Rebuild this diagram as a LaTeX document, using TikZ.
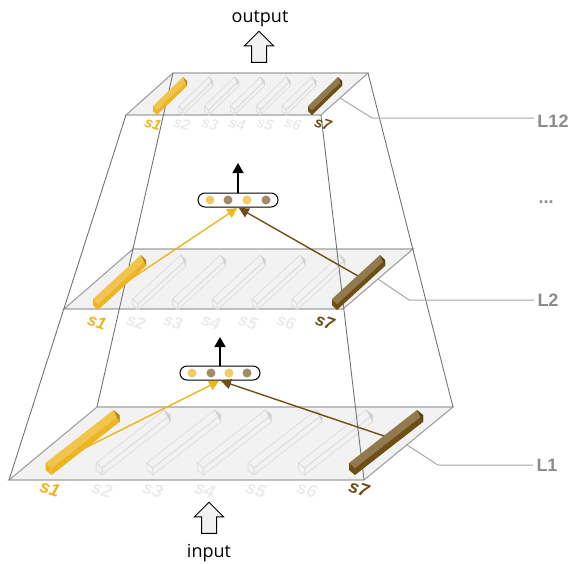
\documentclass[tikz,border=0pt]{standalone}
\usepackage{fontspec}
\setmainfont{Open Sans}
\newfontfamily\barfont{Liberation Sans}
\usetikzlibrary{arrows.meta,shapes.arrows}

\definecolor{softgold}{RGB}{238,181,34}
\definecolor{softbrown}{RGB}{110,78,20}
\definecolor{planegray}{RGB}{242,242,242}
\definecolor{edgegray}{RGB}{160,160,160}
\definecolor{textgray}{RGB}{140,140,140}
\definecolor{ghostgray}{RGB}{222,222,222}

\tikzset{
  plane/.style={fill=planegray, draw=edgegray, line width=1.1pt},
  pyramid/.style={draw=black!55, line width=0.9pt},
  leader/.style={draw=black!35, line width=1pt},
  layerlabel/.style={text=textgray, font=\barfont\bfseries\fontsize{18}{18}\selectfont},
  barlabel/.style={font=\barfont\bfseries\itshape\fontsize{18}{18}\selectfont, rotate=-18, inner sep=0pt},
  bigarrow/.style={single arrow, draw=black, fill=planegray, line width=1pt, rotate=90, inner sep=0pt,
    minimum height=31pt, single arrow head extend=7pt},
  pill/.style={draw=black, fill=white, line width=1pt, rounded corners=7pt, minimum width=80pt, minimum height=14pt, inner sep=0pt},
  gold dot/.style={circle, fill=softgold!70, minimum size=9pt, inner sep=0pt},
  brown dot/.style={circle, fill=softbrown!65, minimum size=9pt, inner sep=0pt},
  goldlink/.style={draw=softgold, line width=1.4pt, -{Triangle[width=10pt,length=10pt]}, shorten >=1pt},
  brownlink/.style={draw=softbrown, line width=1.4pt, -{Triangle[width=10pt,length=10pt]}, shorten >=1pt},
  uplink/.style={draw=black, line width=1.4pt, -{Triangle[width=11pt,length=10pt]}},
  goldtop/.style={fill=softgold!80!white},
  goldside/.style={fill=softgold},
  goldcap/.style={fill=softgold!75!black},
  browntop/.style={fill=softbrown!75!white},
  brownside/.style={fill=softbrown},
  browncap/.style={fill=softbrown!80!black},
  ghosttop/.style={draw=ghostgray, line width=0.8pt},
  ghostside/.style={draw=ghostgray, line width=0.8pt},
  ghostcap/.style={fill=black!18},
}

% bar: style prefix, x, y, length x, length y, width x, width y, height
\newcommand{\layerbar}[8]{
  \path[#1top] (#2,#3) -- ++(#4,#5) -- ++(#6,#7) -- ++(-#4,-#5) -- cycle;
  \path[#1side] (#2+#6,#3+#7) -- ++(#4,#5) -- ++(0,#8) -- ++(-#4,-#5) -- cycle;
  \path[#1side] (#2,#3) -- ++(#6,#7) -- ++(0,#8) -- ++(-#6,-#7) -- cycle;
  \path[#1cap] (#2+#4,#3+#5) -- ++(#6,#7) -- ++(0,#8) -- cycle;
}

\begin{document}
\begin{tikzpicture}[x=1pt,y=-1pt]
  \useasboundingbox (0,0) rectangle (571,563);

  % Corners of the layers
  \coordinate (a bl) at (9,480);
  \coordinate (a tl) at (97,407);
  \coordinate (a tr) at (453,407);
  \coordinate (a br) at (364,480);
  \coordinate (b bl) at (64,309);
  \coordinate (b tl) at (133,249);
  \coordinate (b tr) at (413,249);
  \coordinate (b br) at (343,309);
  \coordinate (c bl) at (126,115);
  \coordinate (c tl) at (173,73);
  \coordinate (c tr) at (368,73);
  \coordinate (c br) at (321,115);

  % Layers
  \draw[plane] (a bl) -- (a tl) -- (a tr) -- (a br) -- cycle;
  \draw[plane] (b bl) -- (b tl) -- (b tr) -- (b br) -- cycle;
  \draw[plane] (c bl) -- (c tl) -- (c tr) -- (c br) -- cycle;

  % Faded bars
  \foreach \bx/\by/\ds/\lx/\ly/\wx/\wy/\hh in {45.5/463/50.6/68/-53/6/5/7, 93/299/39.8/48/-44/5/5/6, 153/106/25.8/30/-29/4/4/5}{
    \foreach \i in {1,...,5}{
      \layerbar{ghost}{\bx+\i*\ds}{\by}{\lx}{\ly}{\wx}{\wy}{\hh}
    }
  }

  % Pyramid edges
  \draw[pyramid] (a bl) -- (c bl);
  \draw[pyramid] (a tl) -- (c tl);
  \draw[pyramid] (a br) -- (c br);
  \draw[pyramid] (a tr) -- (c tr);

  % Pooling pills
  \node[pill] (pill top) at (238,200) {};
  \node[gold dot] (dot a) at (210,200) {};
  \node[brown dot] (dot b) at (228,200) {};
  \node[gold dot] (dot c) at (247,200) {};
  \node[brown dot] (dot d) at (266,200) {};

  \node[pill] (pill low) at (220,373) {};
  \node[gold dot] (dot e) at (192,373) {};
  \node[brown dot] (dot f) at (211,373) {};
  \node[gold dot] (dot g) at (229,373) {};
  \node[brown dot] (dot h) at (247,373) {};

  % Links
  \coordinate (gold a) at (85,448);
  \coordinate (brown a) at (390,438);
  \coordinate (gold b) at (122,285);
  \coordinate (brown b) at (358,276);
  \coordinate (out top) at (238,163);
  \coordinate (out low) at (220,337);
  \draw[goldlink] (gold a) -- (pill low.south);
  \draw[brownlink] (brown a) -- (pill low.south);
  \draw[goldlink] (gold b) -- (pill top.south);
  \draw[brownlink] (brown b) -- (pill top.south);
  \draw[uplink] (pill top.north) -- (out top);
  \draw[uplink] (pill low.north) -- (out low);

  % Coloured bars
  \layerbar{gold}{45.5}{463}{68}{-53}{6}{5}{7}
  \layerbar{brown}{349}{463}{68}{-53}{6}{5}{7}
  \layerbar{gold}{93}{299}{48}{-44}{5}{5}{6}
  \layerbar{brown}{332}{299}{48}{-44}{5}{5}{6}
  \layerbar{gold}{153}{106}{30}{-29}{4}{4}{5}
  \layerbar{brown}{308}{106}{30}{-29}{4}{4}{5}

  % Bar labels
  \foreach \i/\lbx in {2/102,3/153,4/205,5/256,6/307}
    \node[barlabel, text=ghostgray!60] (la\i) at (\lbx,490) {s\i};
  \foreach \i/\lbx in {2/136,3/173,4/211,5/248,6/286}
    \node[barlabel, text=ghostgray!60, scale=0.94] (lb\i) at (\lbx,322) {s\i};
  \foreach \i/\lbx in {2/182,3/210,4/237,5/265,6/293}
    \node[barlabel, text=ghostgray!60, scale=0.83] (lc\i) at (\lbx,124) {s\i};
  \node[barlabel, text=softgold] (la1) at (50,489) {s1};
  \node[barlabel, text=softbrown] (la7) at (359,489) {s7};
  \node[barlabel, text=softgold, scale=0.94] (lb1) at (97,322) {s1};
  \node[barlabel, text=softbrown, scale=0.94] (lb7) at (325,322) {s7};
  \node[barlabel, text=softgold, scale=0.83] (lc1) at (153,124) {s1};
  \node[barlabel, text=softbrown, scale=0.83] (lc7) at (323,124) {s7};

  % Layer labels
  \node[layerlabel] (name a) at (547,465) {L1};
  \node[layerlabel] (name b) at (548,300) {L2};
  \node[layerlabel] (name c) at (553,121) {L12};
  \node[layerlabel] (name d) at (546,202) {...};

  \coordinate (tick a) at (407,445);
  \coordinate (tick b) at (378,279);
  \coordinate (tick c) at (340,98);
  \draw[leader] (tick a) -- (438,465) -- (name a.west);
  \draw[leader] (tick b) -- (409,300) -- (name b.west);
  \draw[leader] (tick c) -- (372,118) -- (name c.west |- 0,118);

  % Input and output
  \node[bigarrow] (arrow in) at (209,521.5) {\rule{0pt}{14pt}};
  \node[bigarrow] (arrow out) at (259,50.5) {\rule{0pt}{14pt}};
  \node[font=\fontsize{18}{18}\selectfont] (input) at (209,553) {input};
  \node[font=\fontsize{18}{18}\selectfont] (output) at (260,19) {output};
\end{tikzpicture}
\end{document}
